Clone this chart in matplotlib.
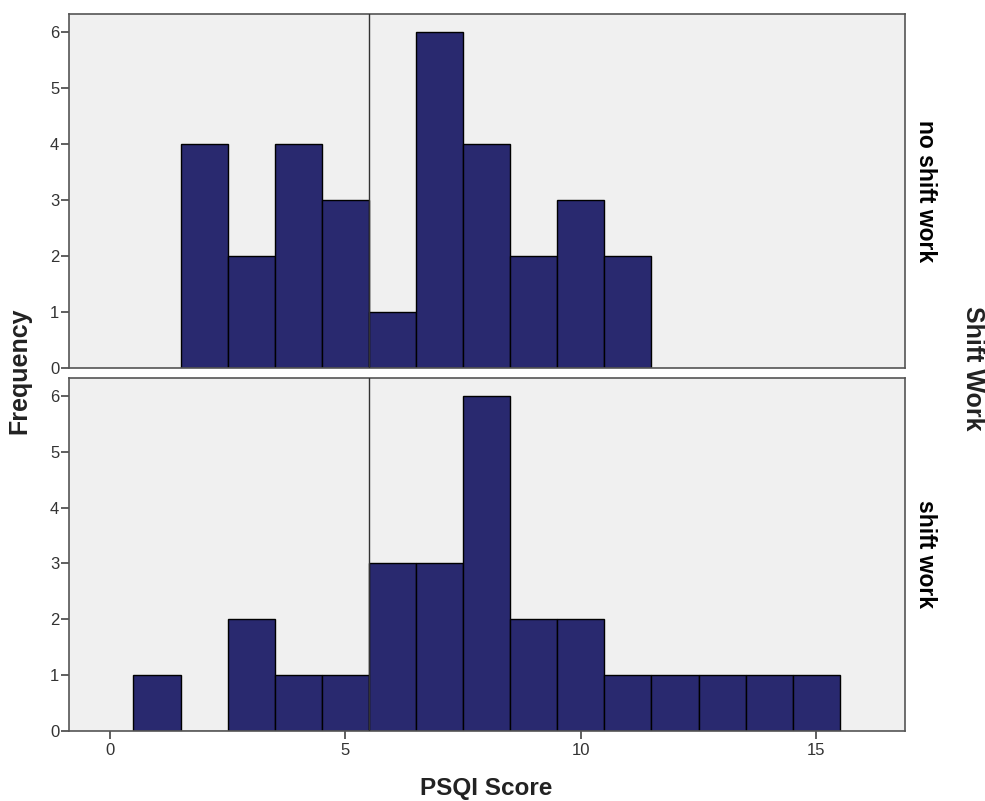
import matplotlib
matplotlib.use('Agg')
import matplotlib.pyplot as plt
import numpy as np

plt.rcParams['font.family'] = ['Liberation Sans', 'DejaVu Sans']

# PSQI score bins (integer scores) and counts per group
scores_no_shift = [2, 3, 4, 5, 6, 7, 8, 9, 10, 11]
counts_no_shift = [4, 2, 4, 3, 1, 6, 4, 2, 3, 2]

scores_shift = [1, 2, 3, 4, 5, 6, 7, 8, 9, 10, 11, 12, 13, 14, 15]
counts_shift = [1, 0, 2, 1, 1, 3, 3, 6, 2, 2, 1, 1, 1, 1, 1]

panel_labels = ['no shift work', 'shift work']
ref_line = 5.5

bar_color = '#29296F'
bg_color = '#F0F0F0'
frame_color = '#555555'
text_color = '#333333'

fig = plt.figure(figsize=(9.85, 8.01), dpi=100)
ax_top = fig.add_axes([0.070, 0.5406, 0.849, 0.4419])
ax_bot = fig.add_axes([0.070, 0.0874, 0.849, 0.4407])

panels = [(ax_top, scores_no_shift, counts_no_shift),
          (ax_bot, scores_shift, counts_shift)]

for i, (ax, xs, ys) in enumerate(panels):
    ax.set_facecolor(bg_color)
    ax.bar(xs, ys, width=1.0, color=bar_color, edgecolor='black', linewidth=1.0, zorder=2)
    ax.axvline(ref_line, color='#333333', linewidth=1.0, zorder=3)
    ax.set_xlim(-0.87, 16.89)
    ax.set_ylim(0, 6.32)
    ax.set_yticks(range(0, 7))
    ax.tick_params(axis='y', direction='out', length=6, width=1.2, color='#444444',
                   labelsize=12, labelcolor=text_color, pad=1)
    for s in ax.spines.values():
        s.set_color(frame_color)
        s.set_linewidth(1.2)
    ax.text(1.010, 0.5, panel_labels[i], transform=ax.transAxes, rotation=-90,
            ha='left', va='center', fontsize=16.5, fontweight='bold', color='black')

ax_top.set_xticks([])
ax_bot.set_xticks([0, 5, 10, 15])
ax_bot.tick_params(axis='x', direction='out', length=6, width=1.2, color='#444444',
                   labelsize=12, labelcolor=text_color, pad=3)

fig.text(0.494, 0.015, 'PSQI Score', ha='center', va='center', fontsize=17.5,
         fontweight='bold', color='#222222')
fig.text(0.020, 0.537, 'Frequency', ha='center', va='center', rotation=90,
         fontsize=18, fontweight='bold', color='#222222')
fig.text(0.988, 0.54, 'Shift Work', ha='center', va='center', rotation=-90,
         fontsize=18, fontweight='bold', color='#222222')

fig.savefig('out.png', dpi=100, facecolor='white')
